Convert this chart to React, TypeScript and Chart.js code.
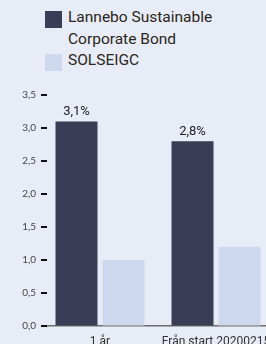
import React, { useEffect, useRef } from "react";
import { Chart, registerables } from "chart.js";

Chart.register(...registerables);

const categories = ["1 år", "Från start 20200215"];
const fundLabel = ["Lannebo Sustainable", "Corporate Bond"];
const indexLabel = "SOLSEIGC";
const fundValues = [3.1, 2.8];
const indexValues = [1.0, 1.2];
const yMin = 0;
const yMax = 3.5;
const yStep = 0.5;

const BG = "#e8ecf6";
const DARK = "#393d55";
const LIGHT = "#cdd7ee";

const fmt = (v: number) => v.toFixed(1).replace(".", ",");

const valueLabels = {
  id: "valueLabels",
  afterDatasetsDraw(chart: any) {
    const ctx = chart.ctx;
    const meta = chart.getDatasetMeta(0);
    ctx.save();
    ctx.font = "13px Roboto";
    ctx.fillStyle = "#222222";
    ctx.textAlign = "center";
    ctx.textBaseline = "bottom";
    meta.data.forEach((el: any, i: number) => {
      const v = chart.data.datasets[0].data[i] as number;
      ctx.fillText(fmt(v) + "%", el.x, el.y - 3);
    });
    ctx.restore();
  },
};

// short tick marks drawn inward from the y axis, at the scale's tick positions
const innerTicks = {
  id: "innerTicks",
  afterDraw(chart: any) {
    const y = chart.scales.y;
    const ctx = chart.ctx;
    const left = chart.chartArea.left;
    ctx.save();
    ctx.strokeStyle = "#111111";
    ctx.lineWidth = 2;
    y.ticks.forEach((t: any) => {
      const py = Math.round(y.getPixelForValue(t.value));
      ctx.beginPath();
      ctx.moveTo(left - 1, py);
      ctx.lineTo(left + 5, py);
      ctx.stroke();
    });
    ctx.restore();
  },
};

export default function App() {
  const ref = useRef<HTMLCanvasElement | null>(null);

  useEffect(() => {
    if (!ref.current) return;
    const chart = new Chart(ref.current, {
      type: "bar",
      data: {
        labels: categories,
        datasets: [
          {
            label: fundLabel.join(" "),
            data: fundValues,
            backgroundColor: DARK,
            categoryPercentage: 0.8103,
            barPercentage: 0.8936,
          },
          {
            label: indexLabel,
            data: indexValues,
            backgroundColor: LIGHT,
            categoryPercentage: 0.8103,
            barPercentage: 0.8936,
          },
        ],
      },
      options: {
        responsive: false,
        animation: false,
        layout: { padding: { top: 15, right: 0, bottom: 0, left: 0 } },
        plugins: {
          legend: { display: false },
          tooltip: { enabled: false },
        },
        scales: {
          x: {
            grid: { display: true, drawOnChartArea: false, drawTicks: false },
            border: { display: true, color: "#6d6d6d", width: 1.5 },
            ticks: {
              color: "#333333",
              font: { family: "Roboto", size: 12 },
              padding: 9,
              maxRotation: 0,
              autoSkip: false,
            },
            afterFit: (s: any) => {
              s.height = 30;
              s.paddingLeft = 0;
              s.paddingRight = 0;
            },
          },
          y: {
            min: yMin,
            max: yMax,
            grid: { drawOnChartArea: false, drawTicks: false },
            border: { display: false },
            ticks: {
              stepSize: yStep,
              color: "#444444",
              font: { family: "Lato", size: 10 },
              padding: 6,
              callback: (v: any) => fmt(Number(v)),
            },
            afterFit: (s: any) => {
              s.width = 42;
              s.paddingTop = 0;
              s.paddingBottom = 0;
            },
          },
        },
      },
      plugins: [valueLabels, innerTicks],
    });
    return () => chart.destroy();
  }, []);

  const textStyle: React.CSSProperties = {
    fontFamily: "Roboto",
    fontSize: "15.5px",
    lineHeight: "21.5px",
    color: "#2b2620",
  };
  const boxStyle = (c: string): React.CSSProperties => ({
    width: 17,
    height: 17,
    background: c,
    marginTop: 4,
    marginRight: 6,
    flex: "0 0 auto",
  });

  return (
    <div
      style={{
        position: "absolute",
        left: 0,
        top: 0,
        width: 266,
        height: 344,
        overflow: "hidden",
        background: BG,
      }}
    >
      <div style={{ position: "absolute", left: 45, top: 7 }}>
        <div style={{ display: "flex", alignItems: "flex-start" }}>
          <div style={boxStyle(DARK)} />
          <div style={textStyle}>
            {fundLabel[0]}
            <br />
            {fundLabel[1]}
          </div>
        </div>
        <div style={{ display: "flex", alignItems: "flex-start" }}>
          <div style={boxStyle(LIGHT)} />
          <div style={textStyle}>{indexLabel}</div>
        </div>
      </div>
      <canvas
        ref={ref}
        width={274}
        height={276}
        style={{ position: "absolute", left: 0, top: 80, width: 274, height: 276 }}
      />
    </div>
  );
}
